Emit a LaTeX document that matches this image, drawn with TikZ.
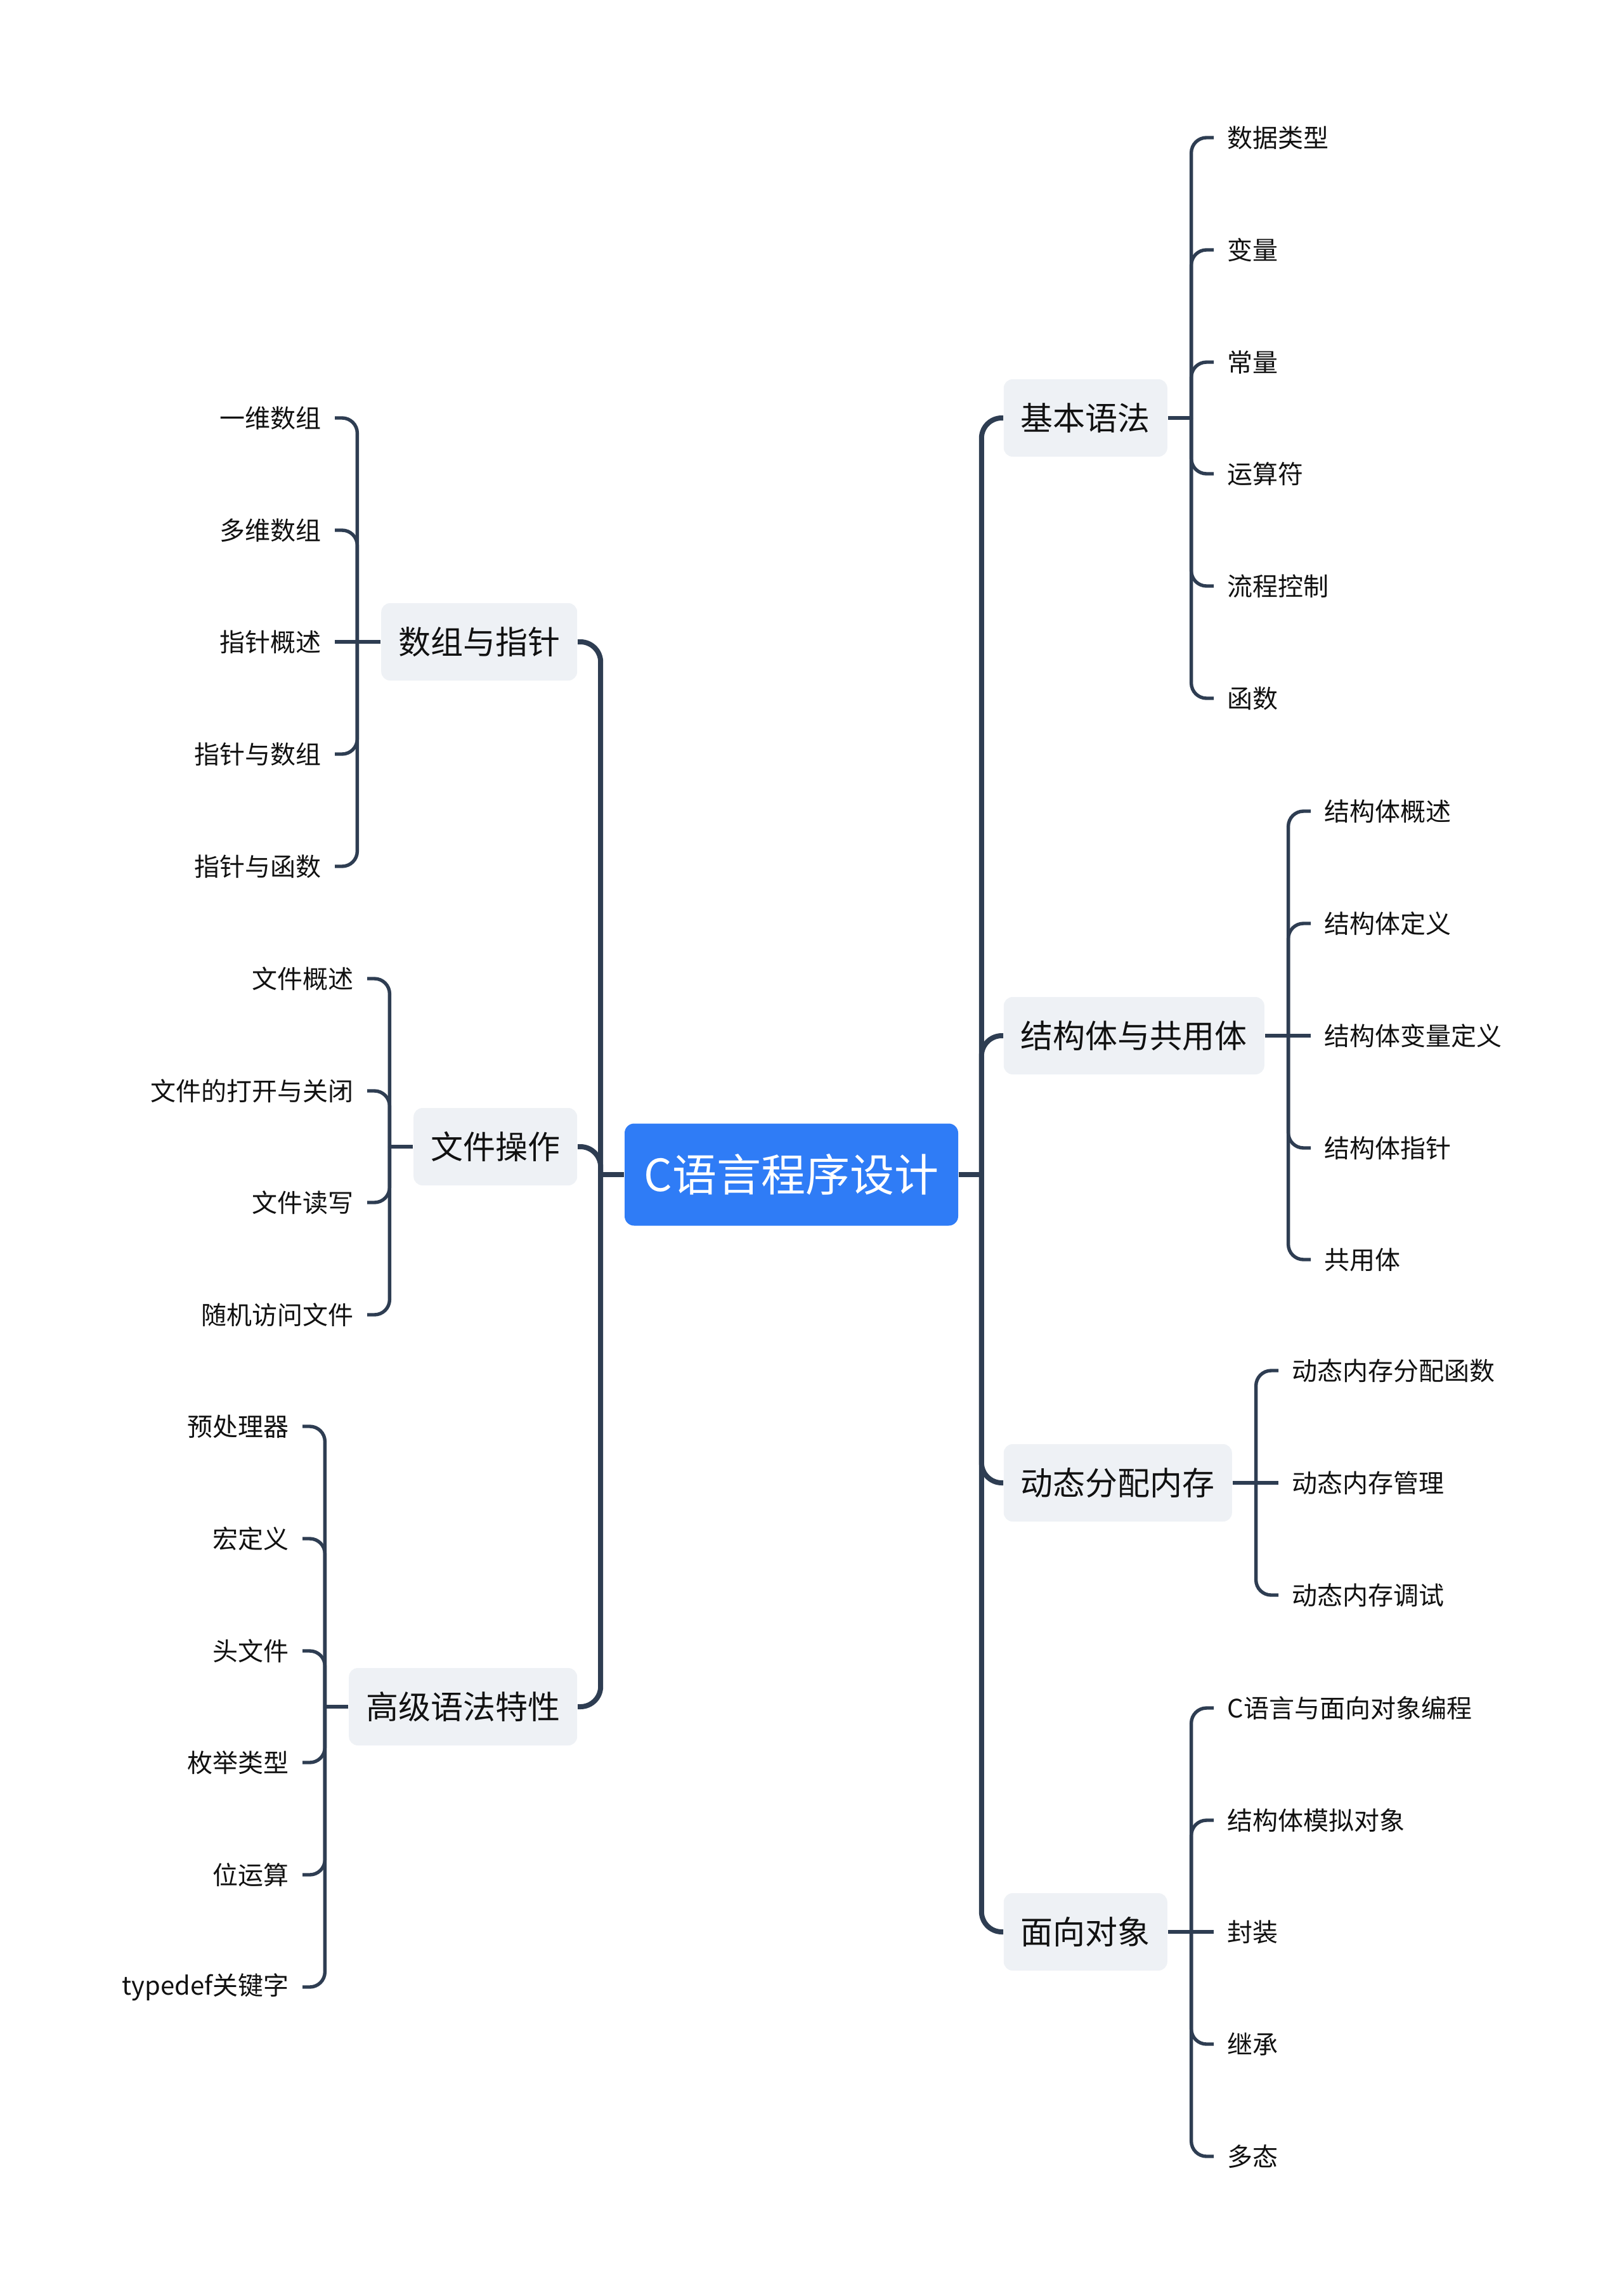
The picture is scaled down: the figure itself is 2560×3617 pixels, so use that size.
\documentclass[tikz,border=0pt]{standalone}
\usepackage{fontspec}
\usepackage{tikz}
\newfontfamily\cjk{Noto Sans CJK SC}
\definecolor{ink}{HTML}{2E3D52}
\definecolor{rootblue}{HTML}{2F7CF6}
\definecolor{boxgrey}{HTML}{EEF1F5}
\definecolor{txt}{HTML}{111111}
\tikzset{
  rootbox/.style={fill=rootblue, rounded corners=3.75pt, minimum width=131.5pt, minimum height=40.25pt, text=white, font=\cjk\fontsize{17.5}{21}\selectfont},
  topic/.style={fill=boxgrey, rounded corners=3.5pt, inner xsep=6.75pt, minimum height=30.5pt, text=txt, font=\cjk\fontsize{12.75}{15}\selectfont},
  leaf/.style={inner xsep=5.25pt, inner ysep=2pt, text=txt, font=\cjk\fontsize{10}{12}\selectfont},
  mainline/.style={draw=ink, line width=2pt, rounded corners=8pt},
  subline/.style={draw=ink, line width=1.35pt, rounded corners=6pt}
}
\begin{document}
\begin{tikzpicture}[x=0.25pt, y=-0.25pt]
  \useasboundingbox (0,0) rectangle (2560,3617);

  \node[rootbox] (root) at (1248,1852) {C语言程序设计};

  % right topics
  \node[topic, anchor=west] (jb) at (1582,659) {基本语法};
  \node[topic, anchor=west] (jg) at (1582,1633) {结构体与共用体};
  \node[topic, anchor=west] (dt) at (1582,2338) {动态分配内存};
  \node[topic, anchor=west] (mx) at (1582,3046) {面向对象};
  % left topics
  \node[topic, anchor=east] (sz) at (911,1012) {数组与指针};
  \node[topic, anchor=east] (wj) at (911,1808) {文件操作};
  \node[topic, anchor=east] (gj) at (911,2691) {高级语法特性};

  \draw[mainline] (root.east) -- ++(36,0) coordinate (rT);
  \draw[mainline] (rT) |- (jb.west); \draw[mainline] (rT) |- (jg.west);
  \draw[mainline] (rT) |- (dt.west); \draw[mainline] (rT) |- (mx.west);
  \draw[mainline] (root.west) -- ++(-37,0) coordinate (lT);
  \draw[mainline] (lT) |- (sz.east); \draw[mainline] (lT) |- (wj.east);
  \draw[mainline] (lT) |- (gj.east);

  % 基本语法
  \node[leaf, anchor=west] (jb1) at (1914,217) {数据类型};
  \node[leaf, anchor=west] (jb2) at (1914,394) {变量};
  \node[leaf, anchor=west] (jb3) at (1914,571) {常量};
  \node[leaf, anchor=west] (jb4) at (1914,747) {运算符};
  \node[leaf, anchor=west] (jb5) at (1914,924) {流程控制};
  \node[leaf, anchor=west] (jb6) at (1914,1101) {函数};
  \draw[subline] (jb.east) -- ++(37,0) coordinate (jbT);
  \draw[subline] (jbT) |- (jb1.west); \draw[subline] (jbT) |- (jb2.west);
  \draw[subline] (jbT) |- (jb3.west); \draw[subline] (jbT) |- (jb4.west);
  \draw[subline] (jbT) |- (jb5.west); \draw[subline] (jbT) |- (jb6.west);

  % 结构体与共用体
  \node[leaf, anchor=west] (jg1) at (2067,1279) {结构体概述};
  \node[leaf, anchor=west] (jg2) at (2067,1456) {结构体定义};
  \node[leaf, anchor=west] (jg3) at (2067,1633) {结构体变量定义};
  \node[leaf, anchor=west] (jg4) at (2067,1810) {结构体指针};
  \node[leaf, anchor=west] (jg5) at (2067,1986) {共用体};
  \draw[subline] (jg.east) -- ++(37,0) coordinate (jgT);
  \draw[subline] (jgT) |- (jg1.west); \draw[subline] (jgT) |- (jg2.west);
  \draw[subline] (jgT) -- (jg3.west); \draw[subline] (jgT) |- (jg4.west);
  \draw[subline] (jgT) |- (jg5.west);

  % 动态分配内存
  \node[leaf, anchor=west] (dt1) at (2016,2161) {动态内存分配函数};
  \node[leaf, anchor=west] (dt2) at (2016,2338) {动态内存管理};
  \node[leaf, anchor=west] (dt3) at (2016,2515) {动态内存调试};
  \draw[subline] (dt.east) -- ++(37,0) coordinate (dtT);
  \draw[subline] (dtT) |- (dt1.west); \draw[subline] (dtT) -- (dt2.west);
  \draw[subline] (dtT) |- (dt3.west);

  % 面向对象
  \node[leaf, anchor=west] (mx1) at (1914,2693) {C语言与面向对象编程};
  \node[leaf, anchor=west] (mx2) at (1914,2870) {结构体模拟对象};
  \node[leaf, anchor=west] (mx3) at (1914,3046) {封装};
  \node[leaf, anchor=west] (mx4) at (1914,3223) {继承};
  \node[leaf, anchor=west] (mx5) at (1914,3400) {多态};
  \draw[subline] (mx.east) -- ++(37,0) coordinate (mxT);
  \draw[subline] (mxT) |- (mx1.west); \draw[subline] (mxT) |- (mx2.west);
  \draw[subline] (mxT) -- (mx3.west); \draw[subline] (mxT) |- (mx4.west);
  \draw[subline] (mxT) |- (mx5.west);

  % 数组与指针
  \node[leaf, anchor=east] (sz1) at (528,659) {一维数组};
  \node[leaf, anchor=east] (sz2) at (528,836) {多维数组};
  \node[leaf, anchor=east] (sz3) at (528,1012) {指针概述};
  \node[leaf, anchor=east] (sz4) at (528,1189) {指针与数组};
  \node[leaf, anchor=east] (sz5) at (528,1366) {指针与函数};
  \draw[subline] (sz.west) -- ++(-37,0) coordinate (szT);
  \draw[subline] (szT) |- (sz1.east); \draw[subline] (szT) |- (sz2.east);
  \draw[subline] (szT) -- (sz3.east); \draw[subline] (szT) |- (sz4.east);
  \draw[subline] (szT) |- (sz5.east);

  % 文件操作
  \node[leaf, anchor=east] (wj1) at (579,1543) {文件概述};
  \node[leaf, anchor=east] (wj2) at (579,1720) {文件的打开与关闭};
  \node[leaf, anchor=east] (wj3) at (579,1896) {文件读写};
  \node[leaf, anchor=east] (wj4) at (579,2073) {随机访问文件};
  \draw[subline] (wj.west) -- ++(-37,0) coordinate (wjT);
  \draw[subline] (wjT) |- (wj1.east); \draw[subline] (wjT) |- (wj2.east);
  \draw[subline] (wjT) |- (wj3.east); \draw[subline] (wjT) |- (wj4.east);

  % 高级语法特性
  \node[leaf, anchor=east] (gj1) at (477,2249) {预处理器};
  \node[leaf, anchor=east] (gj2) at (477,2426) {宏定义};
  \node[leaf, anchor=east] (gj3) at (477,2603) {头文件};
  \node[leaf, anchor=east] (gj4) at (477,2779) {枚举类型};
  \node[leaf, anchor=east] (gj5) at (477,2956) {位运算};
  \node[leaf, anchor=east] (gj6) at (477,3133) {typedef关键字};
  \draw[subline] (gj.west) -- ++(-37,0) coordinate (gjT);
  \draw[subline] (gjT) |- (gj1.east); \draw[subline] (gjT) |- (gj2.east);
  \draw[subline] (gjT) |- (gj3.east); \draw[subline] (gjT) |- (gj4.east);
  \draw[subline] (gjT) |- (gj5.east); \draw[subline] (gjT) |- (gj6.east);
\end{tikzpicture}
\end{document}
